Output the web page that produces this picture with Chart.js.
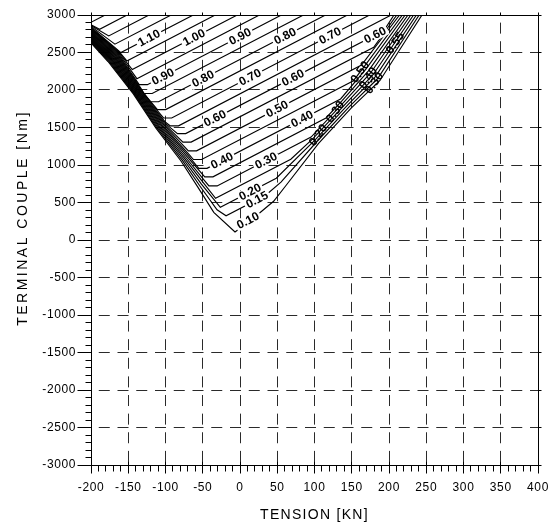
<!DOCTYPE html>
<html><head><meta charset="utf-8">
<script src="https://cdn.jsdelivr.net/npm/chart.js@4.4.1/dist/chart.umd.min.js"></script>
<style>html,body{margin:0;padding:0;background:#fff}canvas{display:block}</style>
</head><body>
<canvas id="c" width="558" height="527"></canvas>
<script>
// ---- axes ----
const xTicks = [-200,-150,-100,-50,0,50,100,150,200,250,300,350,400];
const yTicks = [-3000,-2500,-2000,-1500,-1000,-500,0,500,1000,1500,2000,2500,3000];
const xTitle = 'TENSION [KN]';
const yTitle = 'TERMINAL COUPLE [Nm]';

// ---- contour lines (x = tension kN, y = couple Nm) ----
const c010 = [[-200,2627],[-177.2,2380],[-143.2,1949],[-112.8,1491],[-79.2,1053],[-56.8,709],[-35.2,369],[-6.7,107],[13.4,253],[29.5,387],[45.1,516],[61.2,720],[105.5,1289],[149.5,1761],[187.9,2127],[244.3,3000]];
const c015 = [[-200,2638],[-176.3,2386],[-142.5,1954],[-111.7,1499],[-77.6,1065],[-54.3,727],[-30.8,402],[-18.7,323],[34.9,600],[55,772],[103,1310],[147.1,1781],[184.8,2153],[240.5,3000]];
const c020 = [[-200,2648],[-175.5,2392],[-141.8,1959],[-110.6,1507],[-76,1077],[-51.8,745],[-26.4,435],[48.7,823],[100.5,1331],[144.7,1801],[181.7,2178],[236.8,3000]];
const c025 = [[-200,2659],[-174.6,2398],[-141.2,1964],[-109.5,1515],[-74.4,1088],[-49.3,764],[-32.8,556],[68.2,1077],[97.9,1351],[142.3,1821],[178.6,2204],[233,3000]];
const c030 = [[-200,2669],[-173.7,2404],[-140.5,1969],[-108.4,1522],[-72.8,1100],[-46.8,782],[-41.7,721],[-30.7,721],[95.4,1372],[139.8,1841],[175.5,2230],[229.3,3000]];
const c035 = [[-200,2680],[-172.9,2410],[-139.8,1974],[-107.3,1530],[-71.1,1112],[-47.3,842],[-36.3,842],[115.4,1627],[137.4,1861],[172.4,2255],[225.5,3000]];
const c040 = [[-200,2690],[-172,2416],[-139.1,1979],[-106.3,1538],[-69.5,1124],[-55.3,955],[-44.3,955],[135,1881],[169.3,2281],[221.7,3000]];
const c045 = [[-200,2701],[-171.1,2422],[-138.4,1984],[-105.2,1546],[-67.9,1135],[-62.5,1073],[-51.5,1073],[152.3,2124],[166.2,2306],[218,3000]];
const c050 = [[-200,2711],[-170.3,2428],[-137.8,1989],[-104.1,1554],[-69.3,1189],[-58.3,1189],[163.1,2332],[214.2,3000]];
const c055 = [[-200,2722],[-169.4,2434],[-137.1,1994],[-103,1562],[-76.6,1305],[-65.6,1305],[179.5,2569],[210.5,3000]];
const c060 = [[-200,2732],[-168.6,2440],[-136.4,1999],[-101.9,1569],[-83.9,1419],[-72.9,1419],[193.2,2793],[206.7,3000]];
const c065 = [[-200,2743],[-167.7,2445],[-135.7,2004],[-100.8,1577],[-93.5,1522],[-82.5,1522],[203,3000]];
const c070 = [[-200,2754],[-166.8,2451],[-135,2009],[-102.7,1627],[-91.7,1627],[174,3000]];
const c075 = [[-200,2764],[-166,2457],[-134.3,2014],[-110.8,1739],[-99.8,1739],[144.2,3000]];
const c080 = [[-200,2775],[-165.1,2463],[-133.7,2019],[-120.3,1843],[-109.3,1843],[114.8,3000]];
const c085 = [[-200,2785],[-164.2,2469],[-133,2024],[-128.9,1953],[-117.9,1953],[85.2,3000]];
const c090 = [[-200,2796],[-163.4,2475],[-135.3,2071],[-124.3,2071],[55.6,3000]];
const c095 = [[-200,2806],[-162.5,2481],[-138.4,2151],[26.1,3000]];
const c100 = [[-200,2817],[-161.6,2487],[-144.6,2272],[-3.7,3000]];
const c105 = [[-200,2827],[-160.8,2493],[-151.9,2387],[-33.3,3000]];
const c110 = [[-200,2838],[-159.9,2499],[-62.7,3000]];
const c115 = [[-200,2848],[-167.9,2611],[-92.4,3000]];
const c120 = [[-200,2859],[-176.2,2721],[-122.1,3000]];
const c125 = [[-200,2870],[-188.5,2809],[-151.6,3000]];
const c130 = [[-200,2903],[-181,3000]];

const contourLevels = ['0.10','0.15','0.20','0.25','0.30','0.35','0.40','0.45','0.50','0.55','0.60','0.65','0.70','0.75','0.80','0.85','0.90','0.95','1.00','1.05','1.10','1.15','1.20','1.25','1.30'];
const contourLines = [c010,c015,c020,c025,c030,c035,c040,c045,c050,c055,c060,c065,c070,c075,c080,c085,c090,c095,c100,c105,c110,c115,c120,c125,c130];

// contour value labels [text, x, y]
const lineLabels = [
  ['1.10',-122.1,2693],['1.00',-61.7,2700],['0.90',0,2713],['0.80',60.4,2719],['0.70',120.8,2725],['0.60',181.2,2732],
  ['0.90',-103.4,2179],['0.80',-49.7,2150],['0.70',13.4,2170],['0.60',71.1,2163],
  ['0.60',-33.6,1622],['0.50',49.7,1746],['0.40',83.2,1614],
  ['0.40',-24.2,1059],['0.30',34.9,1059],
  ['0.20',13.4,641],['0.15',22.8,538],['0.10',10.7,260]
];
const bandLabels = [
  ['0.30',127.5,1711],['0.50',161,2240],['0.40',171.8,2160],['0.30',179.9,2093],['0.55',208,2627],['0.20',104.7,1400]
];

// ---- drawing ----
const FONT = '"Liberation Sans", Arial, Helvetica, sans-serif';
const DIAG = -27.5 * Math.PI / 180;
const BAND = -55 * Math.PI / 180;

const deco = {
  id: 'deco',
  afterDraw(chart) {
    const {ctx, chartArea: a, scales: {x, y}} = chart;
    const h = v => Math.round(v) + 0.5;
    ctx.save();
    ctx.font = 'bold 12px ' + FONT;
    ctx.textAlign = 'center';
    ctx.textBaseline = 'middle';
    lineLabels.forEach(([t, vx, vy]) => {
      const px = x.getPixelForValue(vx), py = y.getPixelForValue(vy);
      const w = ctx.measureText(t).width;
      ctx.save();
      ctx.translate(px, py); ctx.rotate(DIAG);
      ctx.fillStyle = '#fff'; ctx.fillRect(-w / 2 - 2, -5.5, w + 4, 11);
      ctx.fillStyle = '#000'; ctx.fillText(t, 0, 0.5);
      ctx.restore();
    });
    bandLabels.forEach(([t, vx, vy]) => {
      const px = x.getPixelForValue(vx), py = y.getPixelForValue(vy);
      ctx.save();
      ctx.translate(px, py); ctx.rotate(BAND);
      ctx.fillStyle = '#000'; ctx.fillText(t, 0, 0.5);
      ctx.restore();
    });

    // frame
    ctx.strokeStyle = '#000';
    ctx.lineWidth = 1;
    ctx.setLineDash([]);
    const L = h(a.left - 0.5), R = h(a.right - 0.5), T = h(a.top - 0.5), B = h(a.bottom - 0.5);
    ctx.beginPath();
    ctx.moveTo(L, T); ctx.lineTo(L, B); ctx.lineTo(R, B); ctx.lineTo(R, T); ctx.closePath();
    ctx.stroke();

    ctx.beginPath();
    yTicks.forEach((v, i) => {
      const py = h(y.getPixelForValue(v) - 0.5);
      ctx.moveTo(L - 14, py); ctx.lineTo(L, py);
      ctx.moveTo(R, py); ctx.lineTo(R + 3, py);
      if (i < yTicks.length - 1) {
        for (let k = 1; k < 5; k++) {
          const q = h(y.getPixelForValue(v + k * 100) - 0.5);
          ctx.moveTo(L - 6, q); ctx.lineTo(L, q);
        }
      }
    });
    xTicks.forEach((v, i) => {
      const px = h(x.getPixelForValue(v) - 0.5);
      ctx.moveTo(px, B - 4); ctx.lineTo(px, B + 8);
      ctx.moveTo(px, T - 3); ctx.lineTo(px, T);
      if (i < xTicks.length - 1) {
        for (let k = 1; k < 5; k++) {
          const q = h(x.getPixelForValue(v + k * 10) - 0.5);
          ctx.moveTo(q, B); ctx.lineTo(q, B + 6);
        }
      }
    });
    ctx.stroke();

    ctx.fillStyle = '#000';
    ctx.font = '12px ' + FONT;
    if ('letterSpacing' in ctx) ctx.letterSpacing = '0.6px';
    ctx.textAlign = 'right';
    ctx.textBaseline = 'middle';
    yTicks.forEach(v => ctx.fillText(String(v), a.left - 15, y.getPixelForValue(v)));
    ctx.textAlign = 'center';
    xTicks.forEach(v => ctx.fillText(String(v), x.getPixelForValue(v), a.bottom + 23));

    ctx.font = '14px ' + FONT;
    if ('letterSpacing' in ctx) ctx.letterSpacing = '1.3px';
    ctx.fillText(xTitle, (a.left + a.right) / 2, a.bottom + 50);
    if ('letterSpacing' in ctx) ctx.letterSpacing = '2.5px';
    ctx.save();
    ctx.translate(23, 218);
    ctx.rotate(-Math.PI / 2);
    ctx.fillText(yTitle, 0, 0);
    ctx.restore();
    ctx.restore();
  }
};

const gridColor = c => (c.tick && (c.tick.value === -200 || c.tick.value === 400 || c.tick.value === -3000 || c.tick.value === 3000)) ? 'rgba(0,0,0,0)' : '#2a2a2a';

new Chart(document.getElementById('c'), {
  type: 'scatter',
  data: {
    datasets: contourLines.map((pts, i) => ({
      label: contourLevels[i],
      data: pts,
      showLine: true,
      borderColor: '#000',
      borderWidth: 1.15,
      pointRadius: 0,
      tension: 0,
      fill: false
    }))
  },
  options: {
    responsive: false,
    animation: false,
    devicePixelRatio: 1,
    events: [],
    layout: {padding: {left: 0, right: 20, top: 15, bottom: 0}},
    plugins: {legend: {display: false}, tooltip: {enabled: false}, title: {display: false}},
    scales: {
      x: {
        type: 'linear', min: -200, max: 400,
        ticks: {display: false, stepSize: 50},
        grid: {color: gridColor, lineWidth: 1, drawTicks: false},
        border: {display: false, dash: [11, 7.62], dashOffset: 11},
        afterFit: s => { s.height = 62; }
      },
      y: {
        type: 'linear', min: -3000, max: 3000,
        ticks: {display: false, stepSize: 500},
        grid: {color: gridColor, lineWidth: 1, drawTicks: false},
        border: {display: false, dash: [11, 7.75], dashOffset: 11},
        afterFit: s => { s.width = 91; }
      }
    }
  },
  plugins: [deco]
});
</script>
</body></html>
